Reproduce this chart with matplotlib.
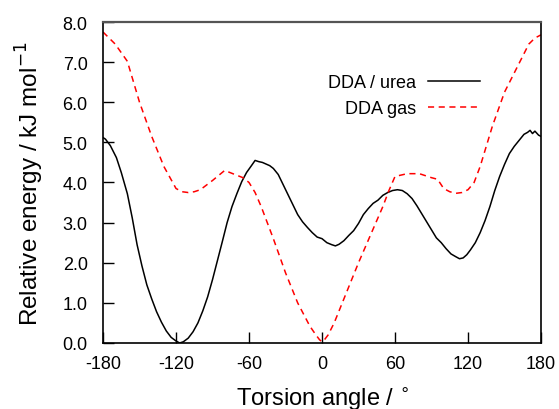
#!/usr/bin/env python3
"""
DDA torsion energy profile: urea vs gas
"""
import matplotlib
matplotlib.use('Agg')
import matplotlib.pyplot as plt

# ============== data ==============
# DDA / urea (black solid)
urea_angle = [-180, -178, -174, -169, -165, -160, -156, -152, -148, -144, -140, -136,
              -132, -128, -124, -120, -117, -114, -110, -106, -102, -98, -94, -90,
              -86, -82, -78, -74, -70, -66, -62, -58, -55, -52, -49, -46, -43, -40,
              -36, -32, -28, -24, -20, -16, -12, -8, -4, 0, 4, 8, 11, 14, 18, 22,
              26, 30, 34, 38, 42, 46, 50, 54, 58, 62, 66, 70, 74, 78, 82, 86, 90,
              94, 98, 102, 106, 110, 113, 116, 119, 122, 126, 130, 134, 138, 142,
              146, 150, 154, 158, 162, 166, 169, 171, 173, 175, 178, 180]
urea_energy = [5.12, 5.08, 4.92, 4.62, 4.25, 3.72, 3.12, 2.45, 1.92, 1.45, 1.1, 0.78,
               0.52, 0.3, 0.14, 0.05, 0.0, 0.03, 0.12, 0.28, 0.5, 0.8, 1.15, 1.58,
               2.05, 2.52, 3.0, 3.4, 3.72, 4.02, 4.25, 4.42, 4.55, 4.52, 4.5, 4.46,
               4.42, 4.35, 4.2, 3.95, 3.7, 3.45, 3.2, 3.02, 2.88, 2.75, 2.64, 2.6,
               2.5, 2.45, 2.42, 2.46, 2.55, 2.68, 2.8, 2.98, 3.2, 3.35, 3.48, 3.56,
               3.68, 3.75, 3.8, 3.82, 3.8, 3.72, 3.6, 3.42, 3.22, 3.02, 2.82, 2.62,
               2.5, 2.35, 2.22, 2.15, 2.1, 2.12, 2.2, 2.32, 2.5, 2.75, 3.05, 3.4, 3.8,
               4.15, 4.45, 4.72, 4.9, 5.05, 5.2, 5.25, 5.3, 5.22, 5.28, 5.18, 5.15]

# DDA gas (red dashed)
gas_angle = [-180, -170, -160, -150, -140, -130, -120, -115, -110, -105, -100, -90,
             -80, -70, -65, -60, -55, -50, -40, -30, -20, -10, -5, -2, 0, 2, 5, 10,
             20, 30, 40, 50, 55, 60, 70, 80, 90, 95, 100, 105, 110, 115, 120, 125,
             130, 140, 150, 160, 170, 175, 180]
gas_energy = [7.75, 7.45, 7.02, 6.0, 5.15, 4.4, 3.85, 3.77, 3.75, 3.77, 3.82, 4.05,
              4.3, 4.18, 4.12, 4.0, 3.75, 3.4, 2.6, 1.75, 1.0, 0.42, 0.2, 0.08, 0.03,
              0.08, 0.2, 0.5, 1.25, 2.0, 2.7, 3.4, 3.8, 4.15, 4.22, 4.22, 4.12, 4.08,
              3.85, 3.77, 3.73, 3.75, 3.82, 4.0, 4.4, 5.4, 6.25, 6.85, 7.45, 7.6,
              7.68]

x_ticks = [-180, -120, -60, 0, 60, 120, 180]
y_ticks = [0, 1, 2, 3, 4, 5, 6, 7, 8]

# ============== plot ==============
plt.rcParams['font.family'] = ['Liberation Sans', 'DejaVu Sans']

fig = plt.figure(figsize=(5.59, 4.10), dpi=100)
ax = fig.add_axes([0.1843, 0.161, 0.7835, 0.7829])

ax.plot(urea_angle, urea_energy, '-', color='black', linewidth=1.1, label='DDA / urea')
ax.plot(gas_angle, gas_energy, '--', color='red', linewidth=1.1, dashes=(4, 3),
        label='DDA gas')

ax.set_xlim(-180, 180)
ax.set_ylim(0, 8)
ax.set_xticks(x_ticks)
ax.set_xticklabels([str(t) for t in x_ticks])
ax.set_yticks(y_ticks)
ax.set_yticklabels([f'{t:.1f}' for t in y_ticks])
ax.tick_params(axis='both', direction='in', length=8, width=1, labelsize=13,
               top=False, right=False)
ax.tick_params(axis='x', pad=9)
ax.tick_params(axis='y', pad=11)

for side in ['left', 'bottom', 'right']:
    ax.spines[side].set_linewidth(1.2)
    ax.spines[side].set_color('black')
ax.spines['top'].set_linewidth(1.6)
ax.spines['top'].set_color('#555555')

ax.set_xlabel('Torsion angle / $^{\\circ}$', fontsize=17, labelpad=9)
ax.set_ylabel('Relative energy / kJ mol$^{-1}$', fontsize=17.5, labelpad=12)

ax.legend(loc='upper right', bbox_to_anchor=(0.877, 0.86), frameon=False,
          markerfirst=False, fontsize=13, handlelength=2.9, handletextpad=0.65,
          labelspacing=0.5, borderaxespad=0)

plt.savefig('out.png', dpi=100)
plt.close()
